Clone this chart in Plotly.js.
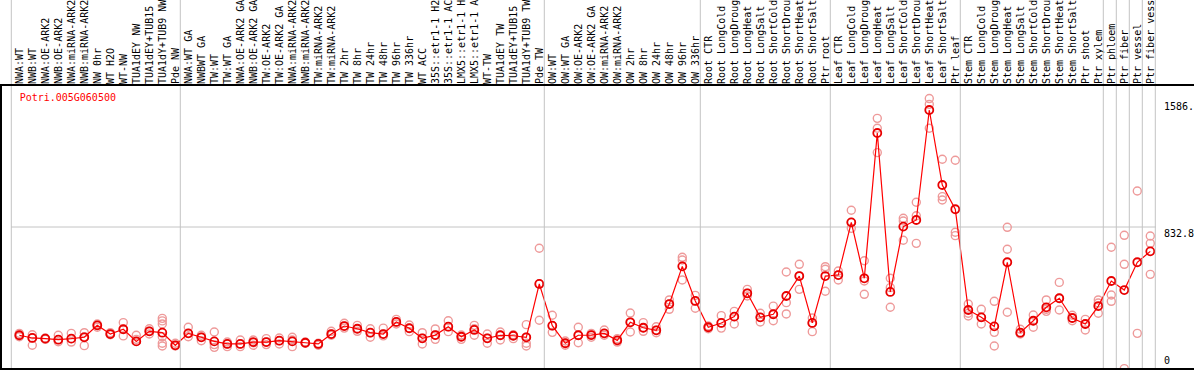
<!DOCTYPE html>
<html>
<head>
<meta charset="utf-8">
<script src="https://cdn.plot.ly/plotly-3.0.1.min.js"></script>
<style>
  html, body { margin: 0; padding: 0; background: #fff; }
  #chart { width: 1194px; height: 370px; }
</style>
</head>
<body>
<div id="chart"></div>
<script>
// ---------- data ----------
const geneName = "Potri.005G060500";

const categories = [
  "NWA:WT","NWB:WT","NWA:OE-ARK2","NWB:OE-ARK2","NWA:miRNA-ARK2","NWB:miRNA-ARK2","NW 0hr","WT H2O","WT-NW","TUA1dEY NW","TUA1dEY+TUB15","TUA1dY+TUB9 NW","Pde NW",
  "NWA:WT GA","NWBWT GA","TW:WT","TW:WT GA","NWA:OE-ARK2 GA","NWB:OE-ARK2 GA","TW:OE-ARK2","TW:OE-ARK2 GA","NWA:miRNA-ARK2 GA","NWB:miRNA-ARK2 GA","TW:miRNA-ARK2","TW:miRNA-ARK2 GA","TW 2hr","TW 8hr","TW 24hr","TW 48hr","TW 96hr","TW 336hr","WT ACC","35S::etr1-1 H2O","35S::etr1-1 ACC","LMX5::etr1-1 H2O","LMX5::etr1-1 ACC","WT-TW","TUA1dEY TW","TUA1dEY+TUB15","TUA1dY+TUB9 TW","Pde TW",
  "OW:WT","OW:WT GA","OW:OE-ARK2","OW:OE-ARK2 GA","OW:miRNA-ARK2","OW:miRNA-ARK2 GA","OW 2hr","OW 8hr","OW 24hr","OW 48hr","OW 96hr","OW 336hr",
  "Root CTR","Root LongCold","Root LongDrought","Root LongHeat","Root LongSalt","Root ShortCold","Root ShortDrought","Root ShortHeat","Root ShortSalt","Ptr root",
  "Leaf CTR","Leaf LongCold","Leaf LongDrought","Leaf LongHeat","Leaf LongSalt","Leaf ShortCold","Leaf ShortDrought","Leaf ShortHeat","Leaf ShortSalt","Ptr leaf",
  "Stem CTR","Stem LongCold","Stem LongDrought","Stem LongHeat","Stem LongSalt","Stem ShortCold","Stem ShortDrought","Stem ShortHeat","Stem ShortSalt","Ptr shoot","Ptr xylem",
  "Ptr phloem","Ptr fiber","Ptr vessel","Ptr fiber vessel"
];

// index of the first category of each group (last entry = end)
const groupStarts = [0, 13, 41, 53, 63, 73, 84, 85, 86, 87, 88];

const means = [
  198,182,178,172,178,186,256,205,233,162,221,213,139,
  209,186,162,147,147,158,158,166,162,154,147,205,252,236,213,205,276,239,180,199,248,189,229,180,198,195,186,499,
  254,151,198,199,209,168,274,242,227,381,602,399,
  245,270,307,444,303,321,428,545,270,545,
  551,860,532,1384,452,835,874,1519,1079,937,
  346,303,250,626,213,283,362,415,299,264,369,
  516,463,626,690
];

const replicates = [
  [209,198,189],[201,182,139],[182,178,174],[198,172,160],[209,178,158],[213,189,137],[264,256,245],[213,204,201],[272,233,194],[198,174,162],[236,221,205],[297,282,264,189,151,135],[151,139,135],
  [245,209,189],[198,186,166],[217,143,127],[158,147,131],[170,147,131],[170,154,139],[178,158,143],[182,166,147],[186,170,131],[158,154,151],[151,143,139],[221,205,198],[268,252,240],[256,236,221],[236,213,186],[240,205,194],[291,276,264],[258,239,219],[213,180,147],[235,199,174],[283,248,219],[199,189,174],[256,236,198],[205,180,151],[217,198,170],[201,195,178],[260,186,151,135],[708,499,286],
  [315,254,215],[164,151,139],[245,198,154],[209,199,186],[229,209,198],[178,168,158],[328,274,217],[272,242,221],[248,227,213],[405,381,350],[655,639,522],[432,399,356],
  [252,245,236],[313,270,240],[338,307,264],[467,444,428],[327,303,276],[369,321,283],[569,389,323],[614,545,467],[299,270,219],[600,585,456],
  [575,551,522],[931,860,825],[635,516,438],[1470,1412,1269],[532,477,362],[884,868,755],[978,899,737],[1586,1552,1412],[1230,1011,991],[1224,802,782],
  [381,327,311],[350,303,264],[397,215,135],[831,702,333],[233,213,205],[317,283,245],[405,350,338],[508,415,346],[315,299,283],[291,264,229],[405,387,327],
  [714,434,397],[784,614,2],[1044,209],[780,737,555]
];

const yTickVals = [0, 832.8, 1586];
const yTickText = ["0", "832.8", "1586."];
const yMax = 1665.6;

// ---------- build ----------
const xIdx = categories.map((_, i) => i);
const repX = [], repY = [];
replicates.forEach((arr, i) => arr.forEach(v => { repX.push(i); repY.push(v); }));

const W = 1194, H = 370;
const M = {l: 11, r: 38, t: 85, b: 1};
const plotW = W - M.l - M.r, plotH = H - M.t - M.b;
const x0 = -0.638;
const x1 = x0 + plotW / 13;
const toPaperX = v => (v - x0) / (x1 - x0);
const pxToPaperX = px => (px - M.l) / plotW;
const pyToPaperY = py => (H - M.b - py) / plotH;

const grey = "#c4c4c4";
const shapes = [];
groupStarts.forEach(k => {
  const xp = toPaperX(k - 0.615);
  shapes.push({type: "line", xref: "paper", yref: "paper", x0: xp, x1: xp,
               y0: 0, y1: pyToPaperY(0), line: {color: grey, width: 1}});
});
// horizontal grid line
shapes.push({type: "line", xref: "paper", yref: "y", x0: 0, x1: 1, y0: yTickVals[1], y1: yTickVals[1],
             line: {color: grey, width: 1}, layer: "below"});
// black frame lines
shapes.push({type: "line", xref: "paper", yref: "paper", x0: pxToPaperX(0), x1: pxToPaperX(W),
             y0: pyToPaperY(85), y1: pyToPaperY(85), line: {color: "#000", width: 2}});
shapes.push({type: "line", xref: "paper", yref: "paper", x0: pxToPaperX(0), x1: pxToPaperX(W),
             y0: pyToPaperY(369), y1: pyToPaperY(369), line: {color: "#000", width: 2}});
shapes.push({type: "line", xref: "paper", yref: "paper", x0: pxToPaperX(1), x1: pxToPaperX(1),
             y0: pyToPaperY(85), y1: pyToPaperY(370), line: {color: "#000", width: 2}});

const monoFont = {family: "DejaVu Sans Mono, monospace", size: 10, color: "#000"};

const annotations = [
  {xref: "paper", yref: "y", x: pxToPaperX(1162), y: yTickVals[2], xanchor: "left", yanchor: "top",
   text: yTickText[2], showarrow: false, font: monoFont, yshift: 0},
  {xref: "paper", yref: "y", x: pxToPaperX(1162), y: yTickVals[1], xanchor: "left", yanchor: "top",
   text: yTickText[1], showarrow: false, font: monoFont, yshift: 1},
  {xref: "paper", yref: "y", x: pxToPaperX(1162), y: yTickVals[0], xanchor: "left", yanchor: "bottom",
   text: yTickText[0], showarrow: false, font: monoFont, yshift: 1}
];

const traces = [
  {x: repX, y: repY, type: "scatter", mode: "markers", hoverinfo: "skip",
   marker: {symbol: "circle-open", size: 8, color: "#ee9a9a", line: {width: 1.4}}},
  {x: xIdx, y: means, type: "scatter", mode: "lines+markers",
   line: {color: "#ff0000", width: 1.2},
   marker: {symbol: "circle-open", size: 8, color: "#e80000", line: {width: 1.8}}}
];

const layout = {
  width: W, height: H,
  margin: M,
  paper_bgcolor: "#fff", plot_bgcolor: "#fff",
  showlegend: false,
  title: {text: geneName, x: 9 / W, xanchor: "left", xref: "paper",
          y: 1 - 97 / H, yanchor: "middle", yref: "container",
          font: {family: "DejaVu Sans Mono, monospace", size: 10, color: "#ff0000"}},
  xaxis: {range: [x0, x1], side: "top", tickmode: "array", tickvals: xIdx, ticktext: categories,
          tickangle: -90, ticks: "", showgrid: false, zeroline: false, showline: false,
          automargin: false, tickfont: monoFont, ticklabelstandoff: 0},
  yaxis: {range: [0, yMax], showgrid: false, zeroline: false, showline: false,
          showticklabels: false, ticks: "", automargin: false},
  shapes: shapes,
  annotations: annotations
};

Plotly.newPlot("chart", traces, layout, {staticPlot: true, displayModeBar: false});
</script>
</body>
</html>
